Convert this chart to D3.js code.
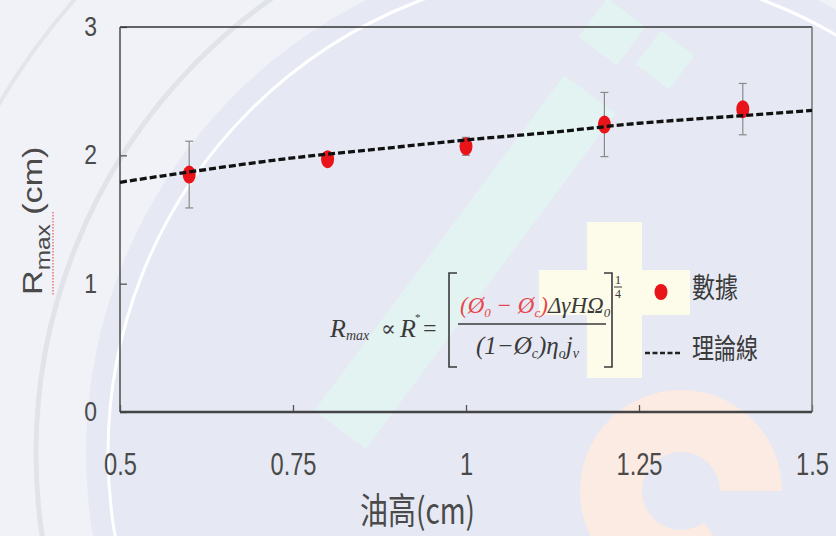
<!DOCTYPE html>
<html><head><meta charset="utf-8">
<script src="https://cdn.jsdelivr.net/npm/d3@7"></script>
<style>html,body{margin:0;padding:0;background:#eef0f6;}svg{display:block;}</style>
</head><body>
<script>
// ---- data ----
const heights = [0.6, 0.8, 1.0, 1.2, 1.4];            // 油高 (cm)
const rmax    = [1.85, 1.97, 2.07, 2.24, 2.36];       // R_max (cm)
const errs    = [0.26, 0.05, 0.07, 0.25, 0.20];       // error bar half-length
const theoryX = [0.5, 0.625, 0.75, 0.875, 1.0, 1.125, 1.25, 1.375, 1.5];
const theoryY = [1.79, 1.89, 1.98, 2.05, 2.12, 2.18, 2.25, 2.30, 2.35];
const xTicks = [0.5, 0.75, 1, 1.25, 1.5];
const xTickLabels = ["0.5", "0.75", "1", "1.25", "1.5"];
const yTicks = [0, 1, 2, 3];
const yTickLabels = ["0", "1", "2", "3"];
const xTitle = "油高(cm)";
const legendLabels = ["數據", "理論線"];

const W = 836, H = 536;
const svg = d3.select("body").append("svg").attr("width", W).attr("height", H);

// ---- watermark-like background ----
const bg = svg.append("g");
bg.append("rect").attr("width", W).attr("height", H).attr("fill", "#f0f2f7");
bg.append("circle").attr("cx", 592).attr("cy", 453).attr("r", 506).attr("fill", "#e6e9f3");
bg.append("circle").attr("cx", 592).attr("cy", 453).attr("r", 484).attr("fill", "none")
  .attr("stroke", "#ffffff").attr("stroke-width", 3);
bg.append("circle").attr("cx", 592).attr("cy", 453).attr("r", 556).attr("fill", "none")
  .attr("stroke", "#e1e3ea").attr("stroke-width", 5);
bg.append("circle").attr("cx", 592).attr("cy", 453).attr("r", 688).attr("fill", "none")
  .attr("stroke", "#e3e5eb").attr("stroke-width", 4);
// pale cyan band + squares
const cy = bg.append("g").attr("fill", "#e3f3f2");
cy.append("rect").attr("x", -209).attr("y", -32).attr("width", 418).attr("height", 64)
  .attr("transform", "translate(465,262) rotate(-53.3)");
cy.append("rect").attr("x", -24).attr("y", -24).attr("width", 48).attr("height", 48)
  .attr("transform", "translate(612,32) rotate(37)");
cy.append("rect").attr("x", -21).attr("y", -21).attr("width", 42).attr("height", 42)
  .attr("transform", "translate(665,60) rotate(37)");
// pale orange C
const arcC = d3.arc().innerRadius(39).outerRadius(101).startAngle(-Math.PI * 1.2).endAngle(Math.PI * 0.5);
bg.append("path").attr("d", arcC()).attr("transform", "translate(681,491)").attr("fill", "#fcebe3");
// pale yellow cross
bg.append("rect").attr("x", 587).attr("y", 222).attr("width", 55).attr("height", 156).attr("fill", "#fdfbe9");
bg.append("rect").attr("x", 539).attr("y", 270).attr("width", 151).attr("height", 45).attr("fill", "#fdfbe9");

// ---- scales ----
const x = d3.scaleLinear().domain([0.5, 1.5]).range([120, 812]);
const y = d3.scaleLinear().domain([0, 3]).range([412, 27]);

// ---- axes ----
const textCol = "#4a4a4a";
const sans = "'Liberation Sans','DejaVu Sans',sans-serif";
const xAxis = svg.append("g").attr("transform", "translate(0,412)")
  .call(d3.axisBottom(x).tickValues(xTicks).tickSizeInner(-7).tickSizeOuter(0).tickPadding(40)
    .tickFormat((d, i) => xTickLabels[i]));
xAxis.select(".domain").remove();
xAxis.selectAll(".tick line").attr("stroke", "#555").attr("stroke-width", 1.3);
xAxis.selectAll(".tick text").attr("fill", textCol).attr("transform", "scale(0.74,1)")
  .style("font-family", sans).style("font-size", "32px");

const yAxis = svg.append("g").attr("transform", "translate(120,0)")
  .call(d3.axisLeft(y).tickValues(yTicks).tickSizeInner(-7).tickSizeOuter(0).tickPadding(27)
    .tickFormat((d, i) => yTickLabels[i]));
yAxis.select(".domain").remove();
yAxis.selectAll(".tick line").attr("stroke", "#555").attr("stroke-width", 1.3);
yAxis.selectAll(".tick text").attr("fill", textCol).attr("transform", "scale(0.85,1)")
  .style("font-family", sans).style("font-size", "27px");

// ---- frame ----
const [x0, x1] = x.range(), [y0, y1] = y.range();
svg.append("line").attr("x1", x0).attr("x2", x1).attr("y1", y1).attr("y2", y1).attr("stroke", "#333").attr("stroke-width", 1.6);
svg.append("line").attr("x1", x1).attr("x2", x1).attr("y1", y1).attr("y2", y0).attr("stroke", "#7a7a7a").attr("stroke-width", 1.6);
svg.append("line").attr("x1", x0).attr("x2", x0).attr("y1", y1).attr("y2", y0).attr("stroke", "#555").attr("stroke-width", 1.6);
svg.append("line").attr("x1", x0).attr("x2", x1).attr("y1", y0).attr("y2", y0).attr("stroke", "#444").attr("stroke-width", 2.4);

// ---- axis titles ----
svg.append("text").attr("x", 360).attr("y", 524).attr("fill", textCol)
  .attr("textLength", 115).attr("lengthAdjust", "spacingAndGlyphs")
  .style("font-family", "'Noto Sans CJK TC',sans-serif").style("font-size", "36px").text(xTitle);

const yt = svg.append("text").attr("transform", "translate(42,295) rotate(-90) scale(1.22,1)").attr("fill", textCol)
  .style("font-family", sans);
yt.append("tspan").style("font-size", "28px").text("R");
yt.append("tspan").style("font-size", "20px").attr("dy", 8).text("max");
yt.append("tspan").style("font-size", "28px").attr("dy", -8).text(" (cm)");
svg.append("line").attr("x1", 53).attr("x2", 53).attr("y1", 212).attr("y2", 295)
  .attr("stroke", "#e86a6a").attr("stroke-width", 1.4).attr("stroke-dasharray", "1.5,1.5");

// ---- data marks ----
const pts = heights.map((h, i) => ({ h, v: rmax[i], e: errs[i] }));
const eb = svg.append("g").attr("stroke", "#8a8a8a").attr("stroke-width", 1.2);
pts.forEach(p => {
  eb.append("line").attr("x1", x(p.h)).attr("x2", x(p.h)).attr("y1", y(p.v - p.e)).attr("y2", y(p.v + p.e));
  [p.v - p.e, p.v + p.e].forEach(v => eb.append("line")
    .attr("x1", x(p.h) - 4).attr("x2", x(p.h) + 4).attr("y1", y(v)).attr("y2", y(v)));
});
svg.append("g").selectAll("ellipse").data(pts).join("ellipse")
  .attr("cx", d => x(d.h)).attr("cy", d => y(d.v)).attr("rx", 6.5).attr("ry", 9).attr("fill", "#e8141a");

const line = d3.line().x(d => x(d[0])).y(d => y(d[1])).curve(d3.curveMonotoneX);
svg.append("path").datum(theoryX.map((t, i) => [t, theoryY[i]]))
  .attr("d", line).attr("fill", "none").attr("stroke", "#111").attr("stroke-width", 3.3)
  .attr("stroke-dasharray", "7,3");

// ---- equation ----
const serif = "'Liberation Serif','DejaVu Serif',serif";
const eqCol = "#3a3a3a", red = "#e8474e";
const eq = svg.append("g").style("font-family", serif).attr("fill", eqCol);
const t1 = eq.append("text").attr("x", 330).attr("y", 337).style("font-style", "italic");
t1.append("tspan").style("font-size", "26px").text("R");
t1.append("tspan").style("font-size", "14px").attr("dy", 3).text("max");
eq.append("text").attr("x", 381).attr("y", 336).style("font-size", "22px").text("∝");
eq.append("text").attr("x", 400).attr("y", 337).style("font-style", "italic").style("font-size", "26px").text("R");
eq.append("text").attr("x", 415).attr("y", 321).style("font-size", "11px").text("*");
eq.append("text").attr("x", 423).attr("y", 336).style("font-size", "24px").text("=");
eq.append("path").attr("d", "M457,273H449V367H457").attr("fill", "none").attr("stroke", eqCol).attr("stroke-width", 1.6);
eq.append("path").attr("d", "M604,273H612V367H604").attr("fill", "none").attr("stroke", eqCol).attr("stroke-width", 1.6);
eq.append("line").attr("x1", 458).attr("x2", 606).attr("y1", 324).attr("y2", 324).attr("stroke", eqCol).attr("stroke-width", 1.4);
const num = eq.append("text").attr("x", 460).attr("y", 313).style("font-size", "23px").style("font-style", "italic");
num.append("tspan").attr("fill", red).text("(Ø");
num.append("tspan").attr("fill", red).style("font-size", "13px").attr("dy", 4).text("0");
num.append("tspan").attr("fill", red).attr("dy", -4).text(" − Ø");
num.append("tspan").attr("fill", red).style("font-size", "13px").attr("dy", 4).text("c");
num.append("tspan").attr("fill", red).attr("dy", -4).text(")");
num.append("tspan").text("ΔγHΩ");
num.append("tspan").style("font-size", "13px").attr("dy", 4).text("0");
const den = eq.append("text").attr("x", 476).attr("y", 354).style("font-size", "25px").style("font-style", "italic");
den.append("tspan").text("(1−Ø");
den.append("tspan").style("font-size", "14px").attr("dy", 4).text("c");
den.append("tspan").attr("dy", -4).text(")η");
den.append("tspan").style("font-size", "14px").attr("dy", 4).text("o");
den.append("tspan").attr("dy", -4).text("j");
den.append("tspan").style("font-size", "14px").attr("dy", 4).text("v");
eq.append("text").attr("x", 618).attr("y", 284).attr("text-anchor", "middle").style("font-size", "13px").text("1");
eq.append("line").attr("x1", 614).attr("x2", 622).attr("y1", 287).attr("y2", 287).attr("stroke", eqCol).attr("stroke-width", 1);
eq.append("text").attr("x", 618).attr("y", 298).attr("text-anchor", "middle").style("font-size", "12px").text("4");

// ---- legend ----
const cjk = "'Noto Sans CJK TC',sans-serif";
svg.append("ellipse").attr("cx", 661).attr("cy", 292).attr("rx", 6.5).attr("ry", 8).attr("fill", "#e8141a");
svg.append("text").attr("x", 692).attr("y", 298).attr("fill", "#3a3a3a").style("font-family", cjk).style("font-size", "28px")
  .attr("textLength", 46).attr("lengthAdjust", "spacingAndGlyphs").text(legendLabels[0]);
svg.append("line").attr("x1", 645).attr("x2", 681).attr("y1", 353).attr("y2", 353)
  .attr("stroke", "#222").attr("stroke-width", 2.6).attr("stroke-dasharray", "5,2.5");
svg.append("text").attr("x", 692).attr("y", 359).attr("fill", "#3a3a3a").style("font-family", cjk).style("font-size", "28px")
  .attr("textLength", 66).attr("lengthAdjust", "spacingAndGlyphs").text(legendLabels[1]);
</script>
</body></html>
